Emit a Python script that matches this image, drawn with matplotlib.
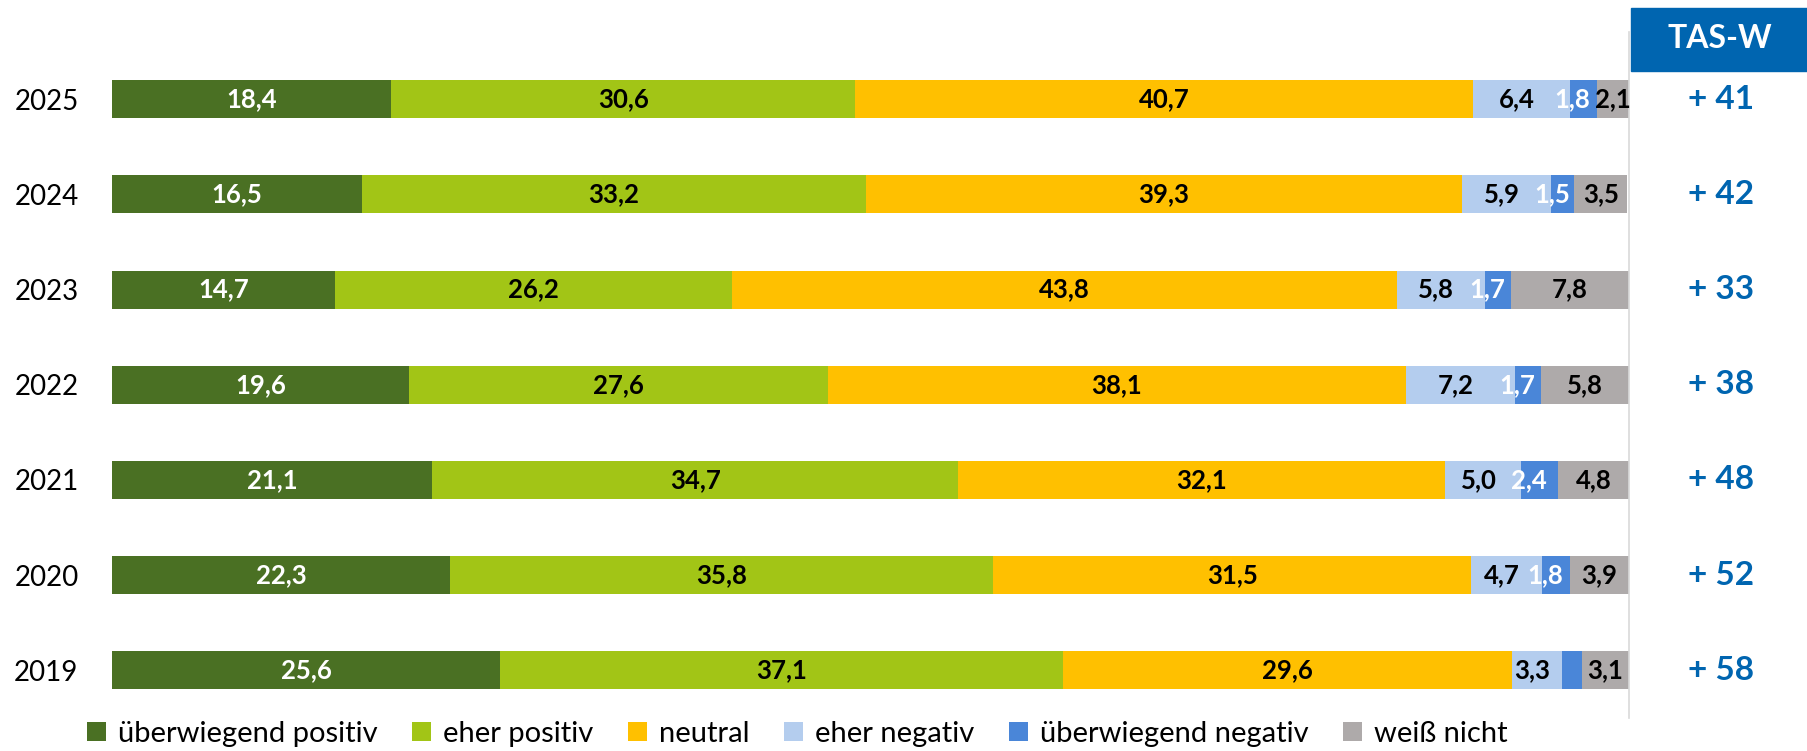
import matplotlib.pyplot as plt
from matplotlib.patches import Rectangle
import matplotlib.transforms as mtransforms
import numpy as np

plt.rcParams['font.family'] = ['Lato', 'DejaVu Sans']

# data, top row first
years = ["2025", "2024", "2023", "2022", "2021", "2020", "2019"]
ueberwiegend_positiv = [18.4, 16.5, 14.7, 19.6, 21.1, 22.3, 25.6]
eher_positiv = [30.6, 33.2, 26.2, 27.6, 34.7, 35.8, 37.1]
neutral = [40.7, 39.3, 43.8, 38.1, 32.1, 31.5, 29.6]
eher_negativ = [6.4, 5.9, 5.8, 7.2, 5.0, 4.7, 3.3]
ueberwiegend_negativ = [1.8, 1.5, 1.7, 1.7, 2.4, 1.8, 1.3]
weiss_nicht = [2.1, 3.5, 7.8, 5.8, 4.8, 3.9, 3.1]
tas_w = [41, 42, 33, 38, 48, 52, 58]

# name, values, bar colour, label colour, label shift (x units)
series = [
    ("überwiegend positiv", ueberwiegend_positiv, "#4A7023", "white", 0),
    ("eher positiv", eher_positiv, "#A2C516", "black", 0),
    ("neutral", neutral, "#FFC000", "black", 0),
    ("eher negativ", eher_negativ, "#B4CDEE", "black", -0.3),
    ("überwiegend negativ", ueberwiegend_negativ, "#4A86D8", "white", -0.7),
    ("weiß nicht", weiss_nicht, "#AEAAAA", "black", 0),
]

fig = plt.figure(figsize=(18.08, 7.51), dpi=100)
ax = fig.add_axes([0.0619, 0.0442, 0.839, 0.887])

y = np.arange(len(years))[::-1]
left = np.zeros(len(years))
for name, vals, color, tcolor, shift in series:
    vals = np.array(vals)
    ax.barh(y, vals, left=left, height=0.4, color=color, label=name)
    for yi, li, v in zip(y, left, vals):
        if v < 1.4:
            continue
        ax.text(li + v / 2 + shift, yi, f"{v:.1f}".replace(".", ","), ha="center",
                va="center", color=tcolor, fontsize=18.5, fontweight="bold")
    left += vals

ax.set_xlim(0, 100)
ax.set_ylim(-0.5, len(years) - 0.5)
ax.set_yticks(y)
ax.set_yticklabels(years, fontsize=20)
ax.tick_params(axis="y", length=0, pad=24)
ax.set_xticks([])
for s in ax.spines.values():
    s.set_visible(False)

# TAS-W column
trans = mtransforms.blended_transform_factory(ax.transAxes, ax.transData)
for yi, t in zip(y, tas_w):
    ax.text(1.061, yi, f"+ {t}", transform=trans, ha="center", va="center",
            color="#0065B0", fontsize=24, fontweight="bold")

ax.plot([1.0, 1.0], [0.0, 1.03], transform=ax.transAxes, color="#D9D9D9",
        lw=1.2, clip_on=False)
fig.patches.append(Rectangle((1631 / 1808, 1 - 71 / 751), 177 / 1808, 63 / 751,
                             transform=fig.transFigure, color="#0065B0"))
fig.text((1631 + 1808) / 2 / 1808, 1 - 39 / 751, "TAS-W", ha="center", va="center",
         color="white", fontsize=23, fontweight="bold")

fig.legend(loc="center", bbox_to_anchor=(0.441, 0.023), ncol=6, frameon=False,
           fontsize=21, handlelength=0.65, handleheight=0.65, handletextpad=0.4,
           columnspacing=1.2)

plt.savefig("out.png", dpi=100)
